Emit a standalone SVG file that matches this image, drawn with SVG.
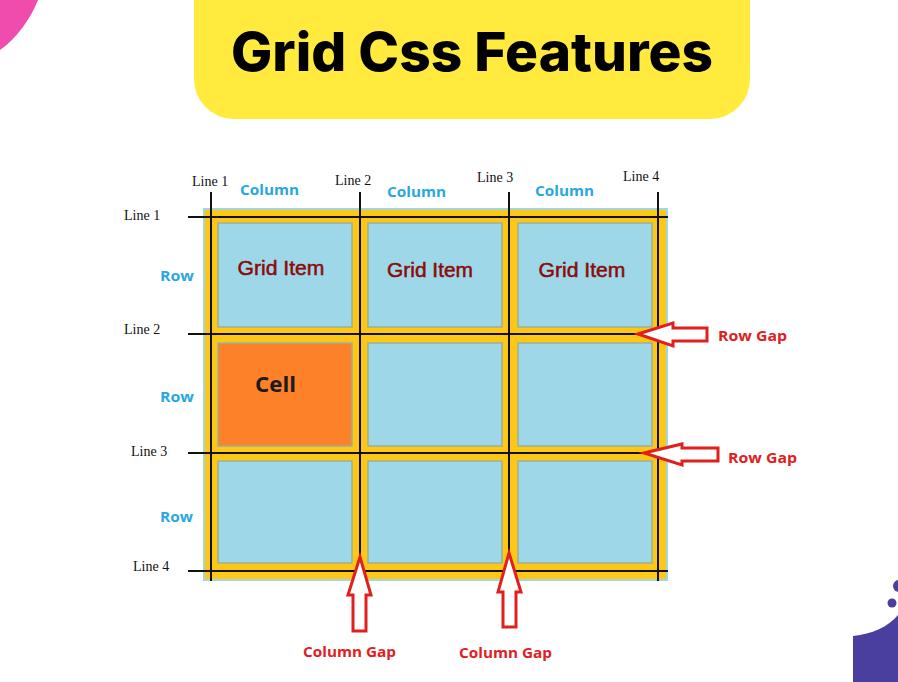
<svg xmlns="http://www.w3.org/2000/svg" width="898" height="682" viewBox="0 0 898 682">
<style>
.line{font-family:"Liberation Serif",serif;font-size:14px;fill:#111}
.col{font-family:"Open Sans","Liberation Sans",sans-serif;font-weight:700;font-size:15px;fill:#2aa7df}
.item{font-family:"Liberation Sans",Arial,sans-serif;font-size:20px;fill:#8b0a0a;stroke:#8b0a0a;stroke-width:0.5}
.red{font-family:"Open Sans","Liberation Sans",sans-serif;font-weight:700;font-size:14.5px;fill:#e0201f}
.cellbox{fill:#9ed8e8;stroke:#9aaea0;stroke-width:1.5}
.gl{stroke:#111;stroke-width:2;fill:none}
.arrow{fill:#fff;stroke:#e0201f;stroke-width:3;stroke-linejoin:miter}
</style>
<rect width="898" height="682" fill="#fff"/>
<!-- decorations -->
<path d="M0,0 H38 C31,18 17,38 0,50 Z" fill="#f04cae"/>
<path d="M853,682 V636 C872,634 888,627 898,615 V682 Z" fill="#4a3f9e"/>
<circle cx="892" cy="603" r="4.5" fill="#4a3f9e"/>
<circle cx="899" cy="586" r="6" fill="#4a3f9e"/>
<!-- title -->
<g id="title">
<path d="M194,0 H750 V79 A40,40 0 0 1 710,119 H234 A40,40 0 0 1 194,79 Z" fill="#ffea3d"/>
<text x="472" y="71" text-anchor="middle" font-family="Inter,'Open Sans',sans-serif" font-weight="800" font-size="54" textLength="482" lengthAdjust="spacingAndGlyphs" fill="#000">Grid Css Features</text>
</g>
<!-- grid container -->
<g id="grid">
<rect x="204" y="209" width="463" height="371" fill="#fdc815" stroke="#9ed8e8" stroke-width="2"/>
</g>
<g id="cell-1-1"><rect class="cellbox" x="218" y="223" width="134" height="104"/><text class="item" x="281" y="275" text-anchor="middle" textLength="87" lengthAdjust="spacingAndGlyphs">Grid Item</text></g>
<g id="cell-1-2"><rect class="cellbox" x="368" y="223" width="134" height="104"/><text class="item" x="430" y="277" text-anchor="middle" textLength="86" lengthAdjust="spacingAndGlyphs">Grid Item</text></g>
<g id="cell-1-3"><rect class="cellbox" x="518" y="223" width="134" height="104"/><text class="item" x="582" y="277" text-anchor="middle" textLength="87" lengthAdjust="spacingAndGlyphs">Grid Item</text></g>
<g id="cell-2-1"><rect x="218" y="343" width="134" height="103" fill="#fd8128" stroke="#9aaea0" stroke-width="1.5"/><text x="275.5" y="392" text-anchor="middle" font-family="'Open Sans','Liberation Sans',sans-serif" font-weight="700" font-size="21" textLength="41" lengthAdjust="spacingAndGlyphs" fill="#1a1a1a">Cell</text></g>
<g id="cell-2-2"><rect class="cellbox" x="368" y="343" width="134" height="103"/></g>
<g id="cell-2-3"><rect class="cellbox" x="518" y="343" width="134" height="103"/></g>
<g id="cell-3-1"><rect class="cellbox" x="218" y="461" width="134" height="102"/></g>
<g id="cell-3-2"><rect class="cellbox" x="368" y="461" width="134" height="102"/></g>
<g id="cell-3-3"><rect class="cellbox" x="518" y="461" width="134" height="102"/></g>
<!-- grid lines -->
<g id="connectors">
<line class="gl" x1="211" y1="192" x2="211" y2="581"/>
<line class="gl" x1="360" y1="192" x2="360" y2="581"/>
<line class="gl" x1="509" y1="192" x2="509" y2="581"/>
<line class="gl" x1="658" y1="192" x2="658" y2="581"/>
<line class="gl" x1="188" y1="217" x2="668" y2="217"/>
<line class="gl" x1="188" y1="334" x2="668" y2="334"/>
<line class="gl" x1="188" y1="453" x2="668" y2="453"/>
<line class="gl" x1="188" y1="571" x2="668" y2="571"/>
<!-- arrows -->
<path class="arrow" d="M638,334 L673,323 V328 H707 V341 H673 V346 Z"/>
<path class="arrow" d="M644,453 L682,444 V448 H718 V461 H682 V465 Z"/>
<path class="arrow" d="M360,557 L371,595 H366 V631 H353 V595 H348 Z"/>
<path class="arrow" d="M509,553 L521,592 H516 V627 H503 V592 H498 Z"/>
</g>
<!-- line labels -->
<g id="labels">
<text class="line" x="192" y="186">Line 1</text>
<text class="line" x="335" y="185">Line 2</text>
<text class="line" x="477" y="182">Line 3</text>
<text class="line" x="623" y="181">Line 4</text>
<text class="line" x="124" y="220">Line 1</text>
<text class="line" x="124" y="334">Line 2</text>
<text class="line" x="131" y="456">Line 3</text>
<text class="line" x="133" y="571">Line 4</text>
<text class="col" x="240" y="195" textLength="59" lengthAdjust="spacingAndGlyphs">Column</text>
<text class="col" x="387" y="197" textLength="59" lengthAdjust="spacingAndGlyphs">Column</text>
<text class="col" x="535" y="196" textLength="59" lengthAdjust="spacingAndGlyphs">Column</text>
<text class="col" x="160" y="281" textLength="34" lengthAdjust="spacingAndGlyphs">Row</text>
<text class="col" x="160" y="402" textLength="34" lengthAdjust="spacingAndGlyphs">Row</text>
<text class="col" x="160" y="522" textLength="33" lengthAdjust="spacingAndGlyphs">Row</text>
<text class="red" x="718" y="341" textLength="69" lengthAdjust="spacingAndGlyphs">Row Gap</text>
<text class="red" x="728" y="463" textLength="69" lengthAdjust="spacingAndGlyphs">Row Gap</text>
<text class="red" x="303" y="657" textLength="93" lengthAdjust="spacingAndGlyphs">Column Gap</text>
<text class="red" x="459" y="658" textLength="93" lengthAdjust="spacingAndGlyphs">Column Gap</text>
</g>
</svg>
